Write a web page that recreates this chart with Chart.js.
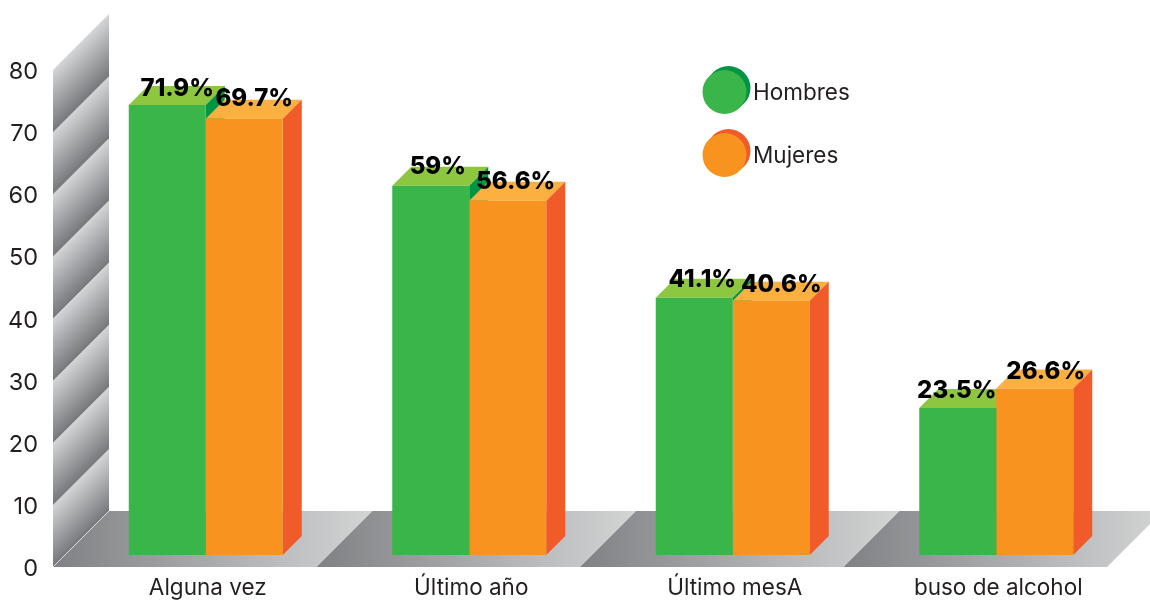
<!DOCTYPE html>
<html lang="es">
<head>
<meta charset="utf-8">
<title>Consumo de alcohol por sexo</title>
<script src="https://cdn.jsdelivr.net/npm/chart.js@4"></script>
<style>
  html, body { margin: 0; background: #fff; }
  #caja { position: relative; width: 1150px; height: 600px; }
</style>
</head>
<body>
<div id="caja"><canvas id="chart-alcohol"></canvas></div>
<script>
const categorias = ['Alguna vez', 'Último año', 'Último mesA', 'buso de alcohol'];
const hombres = [71.9, 59, 41.1, 23.5];
const mujeres = [69.7, 56.6, 40.6, 26.6];
const ticksY = [0, 10, 20, 30, 40, 50, 60, 70, 80];

// colores: frente, tapa, lateral
const verde = ['#39b54a', '#8dc63f', '#009444'];
const naranja = ['#f7931e', '#fbb040', '#f15a29'];

// ajuste a mano de las etiquetas respecto a la barra
const nudgeHombres = [[10, -16], [7, -19], [8, -18], [-1, -17]];
const nudgeMujeres = [[10, -20], [8, -19], [10, -16], [11, -17]];

const FONT = 'Inter, "Open Sans", sans-serif';
const PROF_BARRA = 19;   // fondo de las barras 3D
const PROF_PISO = 56;    // fondo del piso y la pared
const PARED_DX = 21;     // la pared empieza a la izquierda del area

function poly(ctx, pts, fill) {
  ctx.beginPath();
  pts.forEach((p, i) => i ? ctx.lineTo(p[0], p[1]) : ctx.moveTo(p[0], p[1]));
  ctx.closePath();
  ctx.fillStyle = fill;
  ctx.fill();
}

const escena3d = {
  id: 'escena3d',
  beforeDatasetsDraw(chart) {
    const { ctx } = chart;
    const x = chart.scales.x;
    const y = chart.scales.y;
    const x0 = x.left - PARED_DX;
    const y0 = y.getPixelForValue(0);
    const banda = x.getPixelForValue(1) - x.getPixelForValue(0);

    // pared
    for (let i = 0; i < ticksY.length - 1; i++) {
      const abajo = y.getPixelForValue(ticksY[i]);
      const arriba = y.getPixelForValue(ticksY[i + 1]);
      const alto = abajo - arriba;
      const g = ctx.createLinearGradient(x0, arriba, x0 + alto / 2, arriba + alto / 2);
      g.addColorStop(0, '#d4d5d7');
      g.addColorStop(1, '#77787b');
      poly(ctx, [[x0, abajo], [x0, arriba], [x0 + PROF_PISO, arriba - PROF_PISO], [x0 + PROF_PISO, abajo - PROF_PISO]], g);
    }

    // piso, un tramo por categoria
    categorias.forEach((c, i) => {
      const a = x0 + banda * i;
      const g = ctx.createLinearGradient(a, 0, a + banda + PROF_PISO, 0);
      g.addColorStop(0, '#808184');
      g.addColorStop(0.5, '#a9abad');
      g.addColorStop(1, '#d3d5d5');
      poly(ctx, [[a, y0], [a + banda, y0], [a + banda + PROF_PISO, y0 - PROF_PISO], [a + PROF_PISO, y0 - PROF_PISO]], g);
    });

    ctx.strokeStyle = '#dcddde';
    ctx.lineWidth = 1;
    ctx.beginPath();
    ctx.moveTo(x0, y0);
    ctx.lineTo(x0 + PROF_PISO, y0 - PROF_PISO);
    ctx.stroke();

    // tapas y laterales de cada barra, por detras de los frentes
    const colores = [verde, naranja];
    categorias.forEach((c, i) => {
      chart.data.datasets.forEach((ds, d) => {
        const b = chart.getDatasetMeta(d).data[i];
        const izq = b.x - b.width / 2;
        const der = b.x + b.width / 2;
        const p = PROF_BARRA;
        poly(ctx, [[izq, b.y], [der, b.y], [der + p, b.y - p], [izq + p, b.y - p]], colores[d][1]);
        poly(ctx, [[der, b.y], [der + p, b.y - p], [der + p, b.base - p], [der, b.base]], colores[d][2]);
      });
    });
  },
  afterDatasetsDraw(chart) {
    const { ctx } = chart;
    const nudges = [nudgeHombres, nudgeMujeres];
    ctx.save();
    ctx.font = '800 24px ' + FONT;
    ctx.fillStyle = '#000';
    ctx.textAlign = 'center';
    ctx.textBaseline = 'middle';
    chart.data.datasets.forEach((ds, d) => {
      chart.getDatasetMeta(d).data.forEach((b, i) => {
        ctx.fillText(ds.data[i] + '%', b.x + nudges[d][i][0], b.y + nudges[d][i][1]);
      });
    });

    // leyenda
    const colores = [verde, naranja];
    const filas = [92, 155];
    ctx.textAlign = 'left';
    ctx.font = '400 22.5px ' + FONT;
    chart.data.datasets.forEach((ds, d) => {
      const cy = filas[d];
      ctx.fillStyle = colores[d][2];
      ctx.beginPath();
      ctx.arc(728.5, cy - 4, 22, 0, Math.PI * 2);
      ctx.fill();
      ctx.fillStyle = colores[d][0];
      ctx.beginPath();
      ctx.arc(724.5, cy, 22, 0, Math.PI * 2);
      ctx.fill();
      ctx.fillStyle = '#231f20';
      ctx.fillText(ds.label, 753, cy + 1);
    });
    ctx.restore();
  }
};

new Chart(document.getElementById('chart-alcohol').getContext('2d'), {
  type: 'bar',
  data: {
    labels: categorias,
    datasets: [
      { label: 'Hombres', data: hombres, backgroundColor: verde[0], yAxisID: 'yBarras' },
      { label: 'Mujeres', data: mujeres, backgroundColor: naranja[0], yAxisID: 'yBarras' }
    ]
  },
  options: {
    responsive: true,
    maintainAspectRatio: false,
    animation: false,
    devicePixelRatio: 1,
    layout: { padding: { top: 70, right: 22, bottom: 0, left: 0 } },
    categoryPercentage: 0.5844,
    barPercentage: 1,
    plugins: {
      legend: { display: false },
      tooltip: { enabled: false }
    },
    scales: {
      x: {
        grid: { display: false, drawTicks: false },
        border: { display: false },
        afterFit: s => { s.height = 33; },
        ticks: { padding: 8, labelOffset: 2, maxRotation: 0, autoSkip: false, color: '#231f20', font: { family: FONT, size: 22.5 } }
      },
      y: {
        min: 0,
        max: 80,
        // sin el relleno de la ultima etiqueta, si no sube todo el area
        afterFit: s => { s.width = 74; s.paddingTop = 0; s.paddingBottom = 0; },
        grid: { display: false, drawTicks: false },
        border: { display: false },
        afterBuildTicks: s => { s.ticks = ticksY.map(v => ({ value: v })); },
        ticks: { padding: 36, labelOffset: 2, color: '#231f20', font: { family: FONT, size: 23.5 } }
      },
      // las barras apoyan mas arriba que el cero de la pared
      yBarras: { display: false, min: -1.917, max: 77.48 }
    }
  },
  plugins: [escena3d]
});
</script>
</body>
</html>
